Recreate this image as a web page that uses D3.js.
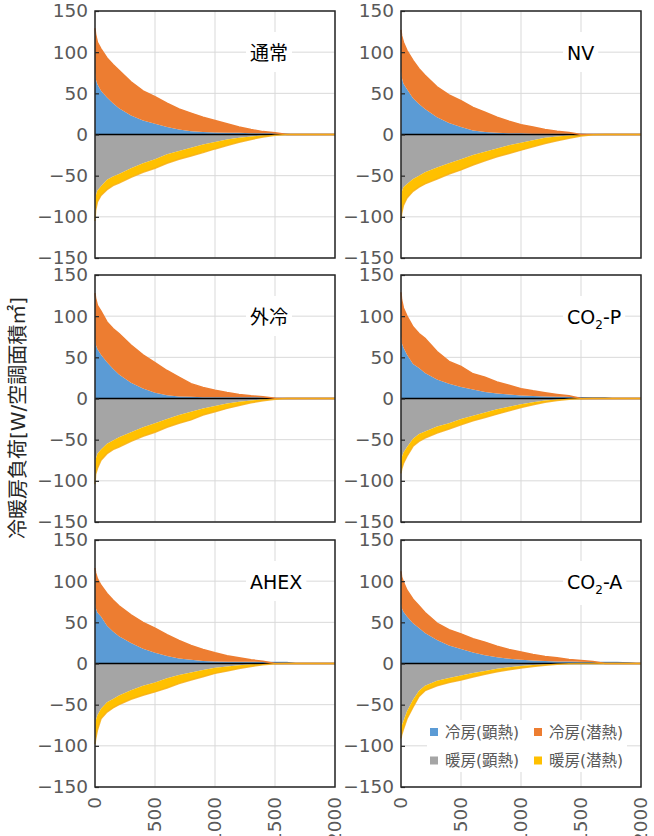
<!DOCTYPE html>
<html>
<head>
<meta charset="utf-8">
<script src="https://cdn.jsdelivr.net/npm/d3@7"></script>
<style>
    body { margin: 0; background: #fff; }
    svg text { font-family: 'DejaVu Sans', 'Noto Sans CJK JP', sans-serif; }
</style>
</head>
<body>
<div id="chart"></div>
<script>

// sorted hours (load duration curve)
const hours = [0, 5, 20, 50, 100, 150, 200, 300, 400, 500, 600, 700, 800, 900, 1000,
    1100, 1200, 1300, 1400, 1500, 1600, 1700, 1800, 1900, 2000];

const xTicks = [0, 500, 1000, 1500, 2000];
const yTicks = [-150, -100, -50, 0, 50, 100, 150];

const seriesKeys = ["coolSens", "coolLat", "heatSens", "heatLat"];
const seriesLabels = ["冷房(顕熱)", "冷房(潜熱)", "暖房(顕熱)", "暖房(潜熱)"];
const seriesColors = ["#5B9BD5", "#ED7D31", "#A5A5A5", "#FFC000"];

const caseNames = ["通常", "NV", "外冷", "CO2-P", "AHEX", "CO2-A"];

// 通常
const normalCoolSens = [75, 68, 61, 53, 45, 38, 32, 23, 17, 13, 9, 6, 4, 3, 2.5, 2, 2, 1.5, 1.5, 1.5, 1, 0, 0, 0, 0];
const normalCoolLat = [54, 54, 51, 51, 48, 47, 46, 41, 36, 33, 29, 25, 22, 18, 14.5, 11, 7, 4.5, 2, 0.5, 0, 0, 0, 0, 0];
const normalHeatSens = [-81, -75, -68, -63, -55, -51, -48, -41, -35, -30, -24, -20, -16, -12, -9, -6, -4, -2.5, -1, -0.3, 0, 0, 0, 0, 0];
const normalHeatLat = [-24, -17, -14, -11, -12, -11, -11, -11, -11, -11, -11, -10, -10, -10, -8.5, -7.5, -5.5, -3.5, -2, -0.7, 0, 0, 0, 0, 0];

// NV
const nvCoolSens = [77, 70, 62, 55, 44, 37, 31, 21, 14, 9, 5, 3, 2, 1.5, 1.5, 1, 1, 1, 1, 1, 0.3, 0, 0, 0, 0];
const nvCoolLat = [50, 50, 50, 47, 46, 43, 41, 37, 34, 32, 28, 24, 19, 14.5, 10.5, 8, 5, 3, 1.5, 0, 0, 0, 0, 0, 0];
const nvHeatSens = [-78, -70, -64, -60, -54, -50, -46, -40, -35, -30, -25, -21, -17, -13, -10, -7, -4, -2.5, -1.2, -0.4, 0, 0, 0, 0, 0];
const nvHeatLat = [-26, -26, -22, -17, -15, -14, -14, -14, -13, -13, -12, -11, -10, -10, -9, -8, -7, -5, -3.3, -1.4, -0.3, 0, 0, 0, 0];

// 外冷
const extCoolSens = [73, 66, 60, 53, 44, 36, 29, 19, 12, 7, 4, 2.5, 2, 1.5, 1.5, 1.5, 1.5, 1.5, 1.5, 0.3, 0, 0, 0, 0, 0];
const extCoolLat = [55, 56, 53, 53, 49, 49, 50, 46, 41, 36.5, 30, 23.5, 16, 12, 8.5, 5.8, 3.5, 1.8, 0.5, 0.1, 0, 0, 0, 0, 0];
const extHeatSens = [-80, -74, -67, -62, -55, -51, -47, -41, -35, -30, -25, -20, -16, -12, -9, -6, -4, -2.5, -1, -0.3, 0, 0, 0, 0, 0];
const extHeatLat = [-24, -18, -18, -13, -12, -11, -12, -11, -11, -11, -10, -10, -10, -8, -7, -6, -4.5, -2.8, -1.8, -0.5, 0, 0, 0, 0, 0];

// CO2-P
const co2pCoolSens = [75, 68, 62, 53, 42, 37, 31, 23, 18, 14, 11, 8, 6, 5, 3.7, 3, 2.5, 2, 2, 1.8, 1.5, 1.5, 0, 0, 0];
const co2pCoolLat = [54, 52, 48, 47, 45, 42, 42, 34, 27, 25, 19, 18, 14, 11, 8.3, 6.3, 4.5, 3, 1.3, 0, 0, 0, 0, 0, 0];
const co2pHeatSens = [-76, -72, -66, -59, -49, -43, -40, -34, -30, -25, -21, -17, -13, -10, -7, -4.5, -2.5, -1.2, -0.4, 0, 0, 0, 0, 0, 0];
const co2pHeatLat = [-15, -14, -13, -11, -9, -9, -8, -8, -7, -7, -6, -6, -6, -5, -4, -3, -2, -1.3, -0.6, -0.3, 0, 0, 0, 0, 0];

// AHEX
const ahexCoolSens = [73, 68, 62, 57, 46, 39, 33, 25, 18, 13, 9, 6, 4.5, 3, 2.5, 2, 2, 2, 2, 2, 2, 0, 0, 0, 0];
const ahexCoolLat = [43, 42, 41, 38, 39, 38, 37, 34, 32, 30, 26, 22, 17.5, 14, 10.5, 7.5, 5, 2.5, 0.8, 0, 0, 0, 0, 0, 0];
const ahexHeatSens = [-75, -70, -63, -55, -47, -43, -39, -32.5, -27, -23, -18, -14, -11, -8, -5.3, -3.5, -2, -1, -0.4, 0, 0, 0, 0, 0, 0];
const ahexHeatLat = [-23, -22, -18, -12, -12, -11, -11, -11, -11.6, -11.5, -11.7, -10.4, -9, -8, -6.7, -5.5, -4, -2.7, -1.2, -0.4, 0, 0, 0, 0, 0];

// CO2-A
const co2aCoolSens = [73, 68, 63, 57, 49, 43, 37, 28.5, 22, 17.5, 13.4, 10, 7.7, 5.7, 4.5, 3.5, 3, 2.5, 2.3, 2, 2, 2, 2, 1.5, 0];
const co2aCoolLat = [39, 37, 36, 32, 29, 27, 25, 20.5, 19, 18.5, 16.6, 16, 13.3, 11.3, 9.5, 7.5, 5.5, 4.5, 2.7, 1.7, 0.5, 0, 0, 0, 0];
const co2aHeatSens = [-80, -76, -70, -58, -44, -33, -27, -21, -17.5, -14.5, -11.5, -9, -6.5, -4.5, -3, -1.8, -1, -0.4, -0.1, 0, 0, 0, 0, 0, 0];
const co2aHeatLat = [-11, -11, -10, -9, -9, -7, -6, -6, -5.5, -5.5, -5, -4, -3.5, -3, -2.5, -1.7, -1, -0.4, -0.1, 0, 0, 0, 0, 0, 0];


class LoadCurveVis {
    constructor(svg, name, series, left, top, showXLabels, showLegend) {
        this.svg = svg;
        this.name = name;
        this.series = series;
        this.left = left;
        this.top = top;
        this.showXLabels = showXLabels;
        this.showLegend = showLegend;

        this.initVis();
    }

    initVis() {
        let vis = this;

        vis.width = 240;
        vis.height = 247;

        vis.g = vis.svg.append("g")
            .attr("transform", "translate(" + vis.left + "," + vis.top + ")");

        vis.x = d3.scaleLinear().domain([0, 2000]).range([0, vis.width]);
        vis.y = d3.scaleLinear().domain([-150, 150]).range([vis.height, 0]);

        // gridlines
        vis.g.append("g")
            .selectAll("line.hgrid")
            .data(yTicks)
            .enter().append("line")
            .attr("x1", 0).attr("x2", vis.width)
            .attr("y1", d => vis.y(d)).attr("y2", d => vis.y(d))
            .attr("stroke", "#d9d9d9").attr("stroke-width", 1);

        vis.g.append("g")
            .selectAll("line.vgrid")
            .data(xTicks)
            .enter().append("line")
            .attr("x1", d => vis.x(d)).attr("x2", d => vis.x(d))
            .attr("y1", 0).attr("y2", vis.height)
            .attr("stroke", "#d9d9d9").attr("stroke-width", 1);

        vis.wrangleData();
    }

    wrangleData() {
        let vis = this;

        vis.table = hours.map((h, i) => {
            let row = {hour: h};
            seriesKeys.forEach(k => row[k] = vis.series[k][i]);
            return row;
        });

        vis.stacked = d3.stack()
            .keys(seriesKeys)
            .offset(d3.stackOffsetDiverging)(vis.table);

        vis.updateVis();
    }

    updateVis() {
        let vis = this;

        let area = d3.area()
            .x(d => vis.x(d.data.hour))
            .y0(d => vis.y(d[0]))
            .y1(d => vis.y(d[1]));

        vis.g.selectAll(".layer")
            .data(vis.stacked)
            .enter().append("path")
            .attr("class", "layer")
            .attr("fill", (d, i) => seriesColors[i])
            .attr("d", area);

        // zero axis
        vis.g.append("line")
            .attr("x1", 0).attr("x2", vis.width)
            .attr("y1", vis.y(0)).attr("y2", vis.y(0))
            .attr("stroke", "#000").attr("stroke-width", 1.5);

        // outer edges of the stacks (zero-height bars show as a line)
        let edge = (layer, side) => d3.line()
            .x(d => vis.x(d.data.hour))
            .y(d => vis.y(d[side]))(layer);

        vis.g.append("path")
            .attr("d", edge(vis.stacked[1], 1))
            .attr("fill", "none").attr("stroke", seriesColors[1]).attr("stroke-width", 1.5);
        vis.g.append("path")
            .attr("d", edge(vis.stacked[3], 0))
            .attr("fill", "none").attr("stroke", "#F7AE12").attr("stroke-width", 1.5)
            .attr("stroke-opacity", 0.85);

        // frame
        vis.g.append("rect")
            .attr("width", vis.width).attr("height", vis.height)
            .attr("fill", "none").attr("stroke", "#262626").attr("stroke-width", 1.5);

        // y axis
        let yAxis = d3.axisLeft(vis.y).tickValues(yTicks).tickSize(-4).tickPadding(7);
        let yAxisGroup = vis.g.append("g").attr("class", "y-axis axis").call(yAxis);
        yAxisGroup.select(".domain").remove();
        yAxisGroup.selectAll("line").attr("stroke", "#262626").attr("stroke-width", 1.2);
        yAxisGroup.selectAll("text")
            .attr("fill", "#595959")
            .style("font-size", "18.5px");

        if (vis.showXLabels) {
            vis.g.selectAll(".xlab")
                .data(xTicks)
                .enter().append("text")
                .attr("class", "xlab")
                .attr("transform", d => "translate(" + vis.x(d) + "," + (vis.height + 10) + ") rotate(-90)")
                .attr("text-anchor", "end")
                .attr("dy", "0.35em")
                .attr("fill", "#595959")
                .style("font-size", "18.5px")
                .text(d => d);
        }

        // case label with white backing
        let labelBg = vis.g.append("rect").attr("fill", "#fff");
        let label = vis.g.append("text")
            .attr("x", vis.left < 200 ? 155 : 166)
            .attr("y", 49)
            .attr("fill", "#000")
            .style("font-size", "19px");

        let m = vis.name.match(/^CO2(.*)$/);
        if (m) {
            label.append("tspan").text("CO");
            label.append("tspan").attr("dy", 5).style("font-size", "12px").text("2");
            label.append("tspan").attr("dy", -5).text(m[1]);
        } else {
            label.text(vis.name);
        }
        let bb = label.node().getBBox();
        labelBg.attr("x", bb.x - 4).attr("y", bb.y - 10)
            .attr("width", bb.width + 8).attr("height", bb.height + 18);

        if (vis.showLegend) {
            let lg = vis.g.append("g").attr("transform", "translate(26,180)");
            lg.append("rect")
                .attr("width", 200).attr("height", 52).attr("fill", "#fff");

            let items = lg.selectAll(".legend-item")
                .data(seriesLabels)
                .enter().append("g")
                .attr("class", "legend-item")
                .attr("transform", (d, i) => "translate(" + (3 + (i % 2) * 104) + "," + (8 + Math.floor(i / 2) * 28.5) + ")");

            items.append("rect")
                .attr("width", 8).attr("height", 8)
                .attr("fill", (d, i) => seriesColors[i]);

            items.append("text")
                .attr("x", 15).attr("y", 9.5)
                .attr("fill", "#595959")
                .style("font-size", "15.5px")
                .text(d => d);
        }
    }
}


let svg = d3.select("#chart")
    .append("svg")
    .attr("width", 654)
    .attr("height", 836);

svg.append("rect").attr("width", 654).attr("height", 836).attr("fill", "#fff");

let panelSeries = [
    {coolSens: normalCoolSens, coolLat: normalCoolLat, heatSens: normalHeatSens, heatLat: normalHeatLat},
    {coolSens: nvCoolSens, coolLat: nvCoolLat, heatSens: nvHeatSens, heatLat: nvHeatLat},
    {coolSens: extCoolSens, coolLat: extCoolLat, heatSens: extHeatSens, heatLat: extHeatLat},
    {coolSens: co2pCoolSens, coolLat: co2pCoolLat, heatSens: co2pHeatSens, heatLat: co2pHeatLat},
    {coolSens: ahexCoolSens, coolLat: ahexCoolLat, heatSens: ahexHeatSens, heatLat: ahexHeatLat},
    {coolSens: co2aCoolSens, coolLat: co2aCoolLat, heatSens: co2aHeatSens, heatLat: co2aHeatLat}
];

let lefts = [95, 401];
let tops = [11, 275, 540];

caseNames.forEach((name, i) => {
    let col = i % 2, row = Math.floor(i / 2);
    new LoadCurveVis(svg, name, panelSeries[i], lefts[col], tops[row], row === 2, i === 5);
});

// y axis title
svg.append("text")
    .attr("transform", "translate(18,418) rotate(-90)")
    .attr("text-anchor", "middle")
    .attr("dy", "0.35em")
    .attr("fill", "#262626")
    .style("font-size", "20px")
    .text("冷暖房負荷[W/空調面積㎡]");

</script>
</body>
</html>
